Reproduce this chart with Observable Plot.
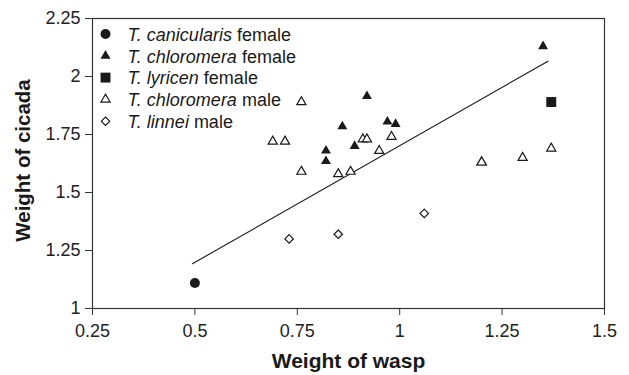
<!DOCTYPE html>
<html>
<head>
<meta charset="utf-8">
<script src="https://cdn.jsdelivr.net/npm/d3@7"></script>
<script src="https://cdn.jsdelivr.net/npm/@observablehq/plot@0.6"></script>
<style>
  html, body { margin: 0; padding: 0; background: #fff; }
  #chart svg { display: block; }
</style>
</head>
<body>
<div id="chart"></div>
<script>
// ---- Data ----
const canicularisF_x = [0.50];
const canicularisF_y = [1.11];

const chloromeraF_x = [0.82, 0.82, 0.86, 0.89, 0.92, 0.97, 0.99, 1.35];
const chloromeraF_y = [1.68, 1.635, 1.785, 1.70, 1.915, 1.805, 1.795, 2.13];

const lyricenF_x = [1.37];
const lyricenF_y = [1.89];

const chloromeraM_x = [0.69, 0.72, 0.76, 0.76, 0.85, 0.88, 0.91, 0.92, 0.95, 0.98, 1.20, 1.20, 1.30, 1.37];
const chloromeraM_y = [1.72, 1.72, 1.89, 1.59, 1.58, 1.59, 1.73, 1.73, 1.68, 1.74, 1.63, 1.63, 1.65, 1.69];

const linneiM_x = [0.73, 0.85, 1.06];
const linneiM_y = [1.30, 1.32, 1.41];

const fit_x = [0.494, 1.362];
const fit_y = [1.193, 2.066];

const xTicks = [0.25, 0.5, 0.75, 1, 1.25, 1.5];
const yTicks = [1, 1.25, 1.5, 1.75, 2, 2.25];

const legendItalic = ["T. canicularis", "T. chloromera", "T. lyricen", "T. chloromera", "T. linnei"];
const legendPlain = ["female", "female", "female", "male", "male"];

const xTitle = "Weight of wasp";
const yTitle = "Weight of cicada";

// ---- Helpers ----
const zip = (xs, ys) => xs.map((x, i) => ({x, y: ys[i]}));
const FONT = "'Liberation Sans', Arial, Helvetica, sans-serif";
const INK = "#1a1a1a";

const series = [
  {data: zip(canicularisF_x, canicularisF_y), symbol: "circle", r: 5, fill: INK, stroke: "none"},
  {data: zip(chloromeraF_x, chloromeraF_y), symbol: "triangle", r: 3.7, fill: INK, stroke: "none"},
  {data: zip(lyricenF_x, lyricenF_y), symbol: "square", r: 5.6, fill: INK, stroke: "none"},
  {data: zip(chloromeraM_x, chloromeraM_y), symbol: "triangle", r: 3.4, fill: "white", stroke: INK},
  {data: zip(linneiM_x, linneiM_y), symbol: "diamond2", r: 3.8, fill: "white", stroke: INK}
];

const canvas = document.createElement("canvas");
const ctx = canvas.getContext("2d");
function measure(text, font) { ctx.font = font; return ctx.measureText(text).width; }

const LEG_FS = 18;
const legMarkerDx = 13, legTextDx = 35, legDy0 = 15.5, legStep = 21.8;

const marks = [
  Plot.frame({stroke: "#333", strokeWidth: 1.2}),
  Plot.axisX({ticks: xTicks, tickFormat: d => String(d), tickSize: 7, tickPadding: 9, fontSize: 18, label: null, stroke: "#333"}),
  Plot.axisY({ticks: yTicks, tickFormat: d => String(d), tickSize: 7, tickPadding: 5, fontSize: 18, label: null, stroke: "#333"}),
  Plot.line(zip(fit_x, fit_y), {x: "x", y: "y", stroke: INK, strokeWidth: 1.1}),
  Plot.text([xTitle], {frameAnchor: "bottom", dy: 53, textAnchor: "middle", lineAnchor: "middle", fontSize: 21, fontWeight: "bold", fill: INK}),
  Plot.text([yTitle], {frameAnchor: "left", dx: -69, dy: -3, rotate: -90, textAnchor: "middle", lineAnchor: "middle", fontSize: 20.5, fontWeight: "bold", fill: INK})
];

series.forEach(s => {
  marks.push(Plot.dot(s.data, {x: "x", y: "y", symbol: s.symbol, r: s.r, fill: s.fill, stroke: s.stroke, strokeWidth: 1.2}));
});

// Legend inside the plot (top-left)
series.forEach((s, i) => {
  const dy = legDy0 + i * legStep;
  marks.push(Plot.dot([0], {frameAnchor: "top-left", dx: legMarkerDx, dy, symbol: s.symbol, r: s.r, fill: s.fill, stroke: s.stroke, strokeWidth: 1.2}));
  marks.push(Plot.text([legendItalic[i]], {frameAnchor: "top-left", dx: legTextDx, dy: dy + 1, textAnchor: "start", lineAnchor: "middle", fontStyle: "italic", fontSize: LEG_FS, fill: INK}));
  const w = measure(legendItalic[i], `italic ${LEG_FS}px ${FONT}`) + measure(" ", `${LEG_FS}px ${FONT}`);
  marks.push(Plot.text([legendPlain[i]], {frameAnchor: "top-left", dx: legTextDx + w, dy: dy + 1, textAnchor: "start", lineAnchor: "middle", fontSize: LEG_FS, fill: INK}));
});

const chart = Plot.plot({
  width: 629,
  height: 375,
  marginLeft: 92,
  marginRight: 25,
  marginTop: 18,
  marginBottom: 67,
  style: {fontFamily: FONT, fontSize: "18px", color: "#222", background: "white"},
  x: {domain: [0.25, 1.5]},
  y: {domain: [1, 2.25]},
  marks
});
document.getElementById("chart").appendChild(chart);
</script>
</body>
</html>
